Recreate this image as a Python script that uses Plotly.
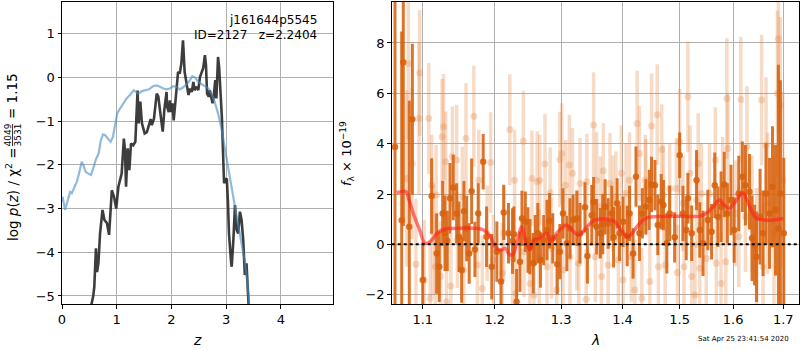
import plotly.graph_objects as go

# ---------------- left panel: log p(z) ----------------
pz_z = [0.53, 0.54, 0.57, 0.59, 0.62, 0.64, 0.665, 0.695, 0.74, 0.775, 0.82, 0.86, 0.91, 0.95, 0.99,
        1.03, 1.09, 1.13, 1.15, 1.17, 1.20, 1.23, 1.26, 1.30, 1.34, 1.38, 1.40, 1.43, 1.46, 1.51,
        1.55, 1.59, 1.62, 1.64, 1.68, 1.73, 1.76, 1.79, 1.84, 1.87, 1.91, 1.92, 1.95, 1.97, 1.99,
        2.02, 2.04, 2.08, 2.12, 2.15, 2.18, 2.21, 2.24, 2.26, 2.29, 2.31, 2.34, 2.37, 2.40, 2.42,
        2.46, 2.49, 2.52, 2.55, 2.58, 2.61, 2.63, 2.65, 2.68, 2.70, 2.73, 2.75, 2.77, 2.80, 2.82,
        2.85, 2.87, 2.90, 2.92, 2.93, 2.96, 2.98, 3.01, 3.03, 3.05, 3.09, 3.10, 3.13, 3.16, 3.19,
        3.22, 3.25, 3.28, 3.31, 3.34, 3.37, 3.40, 3.42, 3.44]
pz_logp = [-6.0, -5.18, -5.0, -4.79, -3.91, -4.45, -4.25, -3.57, -3.03, -3.26, -3.33, -3.6, -2.58, -2.73, -3.0,
           -2.5, -2.2, -1.4, -1.66, -2.5, -1.62, -2.12, -1.51, -1.55, -1.47, -0.3, -1.05, -0.55, -1.05, -1.28,
           -1.25, -1.1, -0.95, -1.09, -0.94, -0.37, -0.44, -0.75, -1.24, -0.73, -0.33, -0.67, -0.79, -0.52, -0.79,
           -0.59, -0.98, -0.44, 0.13, 0.09, 0.32, 0.85, 0.13, -0.02, -0.29, -0.40, -0.25, -0.33, -0.10, -0.29,
           -0.21, -0.29, 0.01, 0.13, 0.22, 0.51, 0.28, -0.37, -0.44, -0.29, -0.52, -0.59, -0.44, -0.06, -0.48,
           0.47, 0.24, -0.37, -0.90, -1.28, -2.42, -2.35, -2.31, -2.81, -3.57, -4.25, -4.33, -3.72, -2.92, -3.49,
           -3.57, -3.07, -3.26, -3.72, -4.52, -4.25, -4.79, -5.18, -6.0]

prior_z = [0.0, 0.01, 0.055, 0.105, 0.15, 0.18, 0.23, 0.27, 0.31, 0.36, 0.39, 0.43, 0.48, 0.53, 0.57,
           0.62, 0.67, 0.71, 0.75, 0.79, 0.84, 0.89, 0.93, 0.97, 1.01, 1.06, 1.12, 1.18, 1.24, 1.31,
           1.35, 1.40, 1.46, 1.52, 1.59, 1.66, 1.73, 1.79, 1.85, 1.91, 1.97, 2.03, 2.09, 2.15, 2.21,
           2.28, 2.34, 2.38, 2.43, 2.49, 2.55, 2.61, 2.67, 2.73, 2.79, 2.85, 2.92, 2.98, 3.04, 3.10,
           3.16, 3.22, 3.28, 3.34, 3.38, 3.42, 3.45]
prior_logp = [-2.85, -2.73, -3.03, -2.81, -2.62, -2.65, -2.5, -2.39, -2.2, -1.93, -2.0, -2.16, -2.2, -2.23, -2.08,
              -1.87, -1.74, -1.43, -1.30, -1.32, -1.40, -1.47, -1.36, -1.13, -0.82, -0.71, -0.59, -0.48, -0.40, -0.29,
              -0.33, -0.37, -0.31, -0.29, -0.27, -0.20, -0.18, -0.21, -0.25, -0.27, -0.25, -0.20, -0.21, -0.27, -0.23,
              -0.15, -0.06, 0.03, 0.0, -0.10, -0.15, -0.18, -0.25, -0.37, -0.56, -0.82, -1.21, -1.66, -2.12, -2.58,
              -2.96, -3.38, -3.80, -4.22, -4.63, -5.18, -5.6]

# ---------------- right panel: spectrum ----------------
dark_wave = [1.0638, 1.0724, 1.0745, 1.0823, 1.0863, 1.100, 1.1119, 1.1187, 1.1222, 1.1268, 1.1299, 1.1331,
             1.1368, 1.1413, 1.1460, 1.1492, 1.1529, 1.1561, 1.1599, 1.1635, 1.1669, 1.1715, 1.1762, 1.1833,
             1.1881, 1.1956, 1.203, 1.209, 1.213, 1.220, 1.226, 1.228, 1.232, 1.237, 1.240, 1.245, 1.249,
             1.252, 1.257, 1.260, 1.264, 1.268, 1.273, 1.278, 1.282, 1.287, 1.294, 1.298, 1.303, 1.309,
             1.314, 1.319, 1.325, 1.330, 1.338, 1.342, 1.349, 1.352, 1.357, 1.363, 1.367, 1.371, 1.376,
             1.382, 1.385, 1.391, 1.395, 1.401, 1.408, 1.412, 1.418, 1.423, 1.429, 1.434, 1.440, 1.446,
             1.450, 1.456, 1.461, 1.467, 1.471, 1.477, 1.482, 1.491, 1.500, 1.506, 1.512, 1.515, 1.522,
             1.531, 1.537, 1.543, 1.552, 1.559, 1.565, 1.571, 1.577, 1.583, 1.589, 1.596, 1.602, 1.611,
             1.618, 1.624, 1.632, 1.637, 1.642, 1.646, 1.653, 1.659, 1.665, 1.672, 1.678, 1.684, 1.690,
             1.694, 1.701]
dark_flux = [3.87, 0.96, 7.23, 0.70, 4.97, -1.42, 1.92, -0.36, -0.89, 1.23, 0.44, 0.14,
             1.83, 2.26, 1.23, 0.30, -1.02, 1.32, 0.63, -0.36, 2.11, -0.20, 1.23, 3.28,
             0.30, -0.89, -0.29, -1.48, 1.27, 0.44, 0.13, 0.40, -2.28, -0.69, 1.03, 0.90, 0.17,
             -0.09, -0.75, 0.17, 0.44, -0.62, 0.17, 0.57, 0.94, 0.24, -0.79, -0.29, 1.23, 0.04,
             0.63, 0.97, 1.03, 0.44, 1.47, -0.46, 1.16, 1.68, 0.70, 0.44, 0.81, 1.49, 0.83,
             1.23, 0.28, 1.63, 0.44, 0.90, 0.33, 1.23, -0.36, 2.69, 0.44, 1.23, 1.49, 1.76,
             2.38, 2.35, 0.77, 1.69, 1.56, 0.04, 1.23, 0.28, 3.54, 1.23, 0.57, 1.83, 0.44,
             2.55, 0.57, 0.04, 0.97, 0.50, 2.35, 1.10, 1.49, 2.38, 1.23, 1.76, 0.57, 2.02,
             2.69, 2.35, 2.09, 0.24, -0.03, -0.49, 1.10, 0.44, 2.02, 1.23, 2.29, 1.36, 0.63,
             2.02, 0.44]
dark_err = [8.0, 7.5, 6.5, 5.0, 3.0, 1.5, 1.5, 1.6, 1.4, 1.3, 1.5, 1.2,
            1.4, 1.3, 1.2, 1.4, 1.3, 1.2, 1.3, 1.2, 1.3, 1.1, 1.2, 1.1,
            1.2, 1.3, 1.2, 1.3, 1.1, 1.2, 1.3, 1.1, 1.3, 1.2, 1.1, 1.2, 1.3,
            1.1, 1.2, 1.0, 1.2, 1.1, 1.0, 1.2, 1.1, 1.0, 1.2, 1.1, 1.0, 1.1,
            1.2, 1.0, 1.1, 1.2, 1.0, 1.1, 1.2, 1.0, 1.1, 1.0, 1.2, 1.1, 1.0,
            1.1, 1.2, 1.0, 1.1, 1.0, 1.2, 1.1, 1.0, 1.2, 1.1, 1.0, 1.1, 1.2,
            1.1, 1.0, 1.2, 1.1, 1.0, 1.2, 1.1, 1.0, 0.9, 1.1, 1.2, 1.0, 1.1,
            1.2, 1.1, 1.3, 1.2, 1.1, 1.3, 1.2, 1.4, 1.3, 1.2, 1.4, 1.3, 1.5,
            1.4, 1.6, 1.5, 1.7, 1.6, 1.8, 1.9, 1.7, 2.0, 2.2, 2.4, 2.6, 6.5,
            4.5, 3.0]

light_wave = [1.079, 1.081, 1.086, 1.091, 1.095, 1.096, 1.102, 1.108, 1.110, 1.112, 1.114, 1.117, 1.118,
              1.124, 1.126, 1.128, 1.131, 1.132, 1.138, 1.140, 1.146, 1.147, 1.154, 1.156, 1.159, 1.170,
              1.175, 1.177, 1.182, 1.189, 1.194, 1.198, 1.211, 1.213, 1.222, 1.226, 1.229, 1.231, 1.242,
              1.243, 1.252, 1.255, 1.258, 1.263, 1.266, 1.267, 1.275, 1.278, 1.283, 1.285, 1.293, 1.298,
              1.301, 1.303, 1.307, 1.313, 1.314, 1.318, 1.325, 1.328, 1.330, 1.340, 1.341, 1.352, 1.355,
              1.357, 1.363, 1.365, 1.368, 1.376, 1.379, 1.384, 1.389, 1.393, 1.398, 1.401, 1.406, 1.412,
              1.415, 1.421, 1.425, 1.429, 1.433, 1.439, 1.440, 1.447, 1.450, 1.460, 1.462, 1.468, 1.471,
              1.474, 1.482, 1.494, 1.496, 1.500, 1.506, 1.508, 1.515, 1.519, 1.522, 1.528, 1.531, 1.534,
              1.537, 1.540, 1.549, 1.555, 1.566, 1.568, 1.577, 1.580, 1.586, 1.588, 1.590, 1.605, 1.611,
              1.615, 1.624, 1.627, 1.637, 1.646, 1.656, 1.659, 1.665, 1.668, 1.681, 1.688, 1.690, 1.694,
              1.699]
light_flux = [2.62, 7.18, 3.21, -0.79, 5.0, 6.81, -1.42, 5.0, -2.14, 2.35, 0.17, -0.89, 1.96,
              -1.28, 4.27, 4.67, 3.28, -2.28, -1.65, 3.48, 3.35, 0.17, 1.89, -1.02, 4.21, 5.09,
              -0.82, 2.55, -1.75, 0.44, 3.25, -0.62, -1.15, 0.44, 4.56, -0.56, 2.55, -1.94, 4.10,
              -0.29, -1.55, 2.62, -2.01, 2.49, -0.49, 2.55, 3.19, -0.89, 2.05, -0.16, -1.81, 3.37,
              3.61, -1.02, 2.35, 3.15, -0.49, 2.82, 0.17, -0.75, 2.42, -2.18, 2.49, 4.74, -0.49,
              2.55, 1.49, -1.28, 2.92, -0.82, 2.42, 1.63, 1.89, -0.62, 2.82, -1.42, 2.02, 2.55,
              -0.49, -1.81, 4.80, 3.61, -2.14, 2.55, 2.29, -1.48, 4.70, 5.15, -0.89, 3.77, 1.96,
              -0.82, 2.22, 2.22, -1.12, 4.07, 1.63, -0.89, 5.86, 2.82, -1.28, -2.01, 1.76, 3.21,
              -0.95, 2.02, -0.56, 2.02, 3.35, -0.75, -1.55, 2.16, -0.69, 5.79, 3.81, 1.23, 0.30,
              5.75, 1.10, 3.88, 1.23, -0.16, 5.73, -0.89, 3.94, 1.63, 0.44, 5.99, 8.17, 5.53,
              2.55]
light_err = [3.5, 3.0, 3.0, 2.6, 3.0, 2.5, 2.4, 2.2, 2.3, 2.0, 2.2, 2.1, 2.0,
             2.2, 2.3, 2.1, 2.0, 2.2, 2.1, 2.0, 2.2, 1.9, 2.0, 2.1, 2.2, 2.0,
             1.9, 2.0, 2.1, 1.9, 2.0, 1.8, 2.0, 1.9, 2.2, 1.9, 2.0, 2.1, 2.0,
             1.8, 2.0, 1.9, 2.1, 2.0, 1.9, 1.8, 2.0, 1.9, 1.8, 2.0, 2.1, 1.9,
             2.0, 1.9, 1.8, 2.0, 1.9, 1.8, 2.0, 1.9, 1.8, 2.0, 1.9, 2.1, 1.8,
             1.9, 2.0, 1.8, 1.9, 1.8, 2.0, 1.9, 1.8, 2.0, 1.9, 1.8, 2.0, 1.9,
             1.8, 2.0, 2.1, 1.9, 2.0, 1.8, 1.9, 2.0, 2.1, 2.0, 1.9, 1.8, 2.0,
             1.9, 1.8, 2.0, 1.9, 2.1, 1.9, 1.8, 2.2, 1.9, 2.0, 2.1, 1.9, 2.0,
             1.8, 2.0, 1.9, 2.0, 2.1, 1.9, 2.0, 2.1, 2.0, 2.4, 2.2, 2.1, 2.0,
             2.5, 2.2, 2.4, 2.3, 2.4, 2.6, 2.5, 2.7, 2.8, 3.0, 3.3, 3.8, 3.5,
             3.5]

model_wave = [1.066, 1.078, 1.082, 1.089, 1.096, 1.103, 1.110, 1.119, 1.129, 1.138, 1.175, 1.184,
              1.194, 1.200, 1.208, 1.216, 1.220, 1.226, 1.233, 1.240, 1.245, 1.252, 1.258, 1.266,
              1.278, 1.283, 1.293, 1.300, 1.309, 1.317, 1.328, 1.344, 1.355, 1.384, 1.398, 1.409,
              1.427, 1.439, 1.453, 1.500, 1.537, 1.549, 1.562, 1.574, 1.583, 1.593, 1.602, 1.619,
              1.627, 1.637, 1.646, 1.662, 1.681, 1.700]
model_flux = [2.05, 2.09, 1.76, 1.10, 0.57, 0.04, 0.11, 0.44, 0.60, 0.63, 0.63, 0.57,
              0.30, -0.09, -0.22, -0.16, -0.36, -0.42, 0.17, 0.70, 0.17, -0.22, 0.17, 0.24,
              0.44, 0.11, 0.44, 0.63, 0.77, 0.57, 0.37, 0.77, 0.97, 0.94, 0.57, 0.30,
              0.77, 1.03, 1.10, 1.12, 1.12, 1.23, 1.49, 1.76, 1.56, 1.43, 1.63, 2.05,
              1.76, 1.30, 1.03, 0.97, 0.97, 1.03]

x_ticks_right = [1.1, 1.2, 1.3, 1.4, 1.5, 1.6, 1.7]
x_ticks_left = [0, 1, 2, 3, 4]
y_ticks_left = [-5, -4, -3, -2, -1, 0, 1]
y_ticks_right = [-2, 0, 2, 4, 6, 8]

FONT = "DejaVu Sans"
DARK = "rgba(215,98,14,0.88)"
LIGHT = "rgba(228,135,70,0.3)"

fig = go.Figure()

fig.add_trace(go.Scatter(x=pz_z, y=pz_logp, mode="lines",
                         line=dict(color="rgba(40,40,40,0.9)", width=2.6),
                         xaxis="x", yaxis="y", showlegend=False))
fig.add_trace(go.Scatter(x=prior_z, y=prior_logp, mode="lines",
                         line=dict(color="rgba(70,140,195,0.6)", width=2.2),
                         xaxis="x", yaxis="y", showlegend=False))

fig.add_trace(go.Scatter(x=light_wave, y=light_flux, mode="markers",
                         marker=dict(color=LIGHT, size=7),
                         error_y=dict(type="data", array=light_err, color=LIGHT, thickness=3.5, width=0),
                         xaxis="x2", yaxis="y2", showlegend=False))
fig.add_trace(go.Scatter(x=dark_wave, y=dark_flux, mode="markers",
                         marker=dict(color=DARK, size=6.5),
                         error_y=dict(type="data", array=dark_err, color=DARK, thickness=3, width=0),
                         xaxis="x2", yaxis="y2", showlegend=False))
fig.add_trace(go.Scatter(x=model_wave, y=model_flux, mode="lines",
                         line=dict(color="rgba(255,30,30,0.6)", width=3.5, shape="spline"),
                         xaxis="x2", yaxis="y2", showlegend=False))

fig.add_shape(type="line", xref="x2 domain", yref="y2", x0=0, x1=1, y0=0, y1=0,
              line=dict(color="black", width=2, dash="dot"))

axis_common = dict(showline=True, linecolor="black", linewidth=1, mirror=True,
                   ticks="outside", ticklen=3.5, tickwidth=1, tickcolor="black",
                   showgrid=True, gridcolor="#b0b0b0", gridwidth=1, zeroline=False,
                   automargin=False,
                   tickfont=dict(family=FONT, size=13, color="black"))

fig.update_layout(
    width=800, height=350,
    margin=dict(l=62, r=1, t=2, b=46),
    paper_bgcolor="white", plot_bgcolor="white",
    font=dict(family=FONT, color="black"),
    xaxis=dict(domain=[0, 0.3677], range=[0, 4.95], tickvals=x_ticks_left, anchor="y", **axis_common),
    yaxis=dict(domain=[0, 1], range=[-5.184, 1.729], tickvals=y_ticks_left,
               ticktext=["\u22125", "\u22124", "\u22123", "\u22122", "\u22121", "0", "1"],
               anchor="x", **axis_common),
    xaxis2=dict(domain=[0.4474, 1], type="log", range=[0.02514, 0.23868],
                tickvals=x_ticks_right, ticktext=[str(v) for v in x_ticks_right],
                anchor="y2", **axis_common),
    yaxis2=dict(domain=[0, 1], range=[-2.369, 9.627], tickvals=y_ticks_right,
                ticktext=["\u22122", "0", "2", "4", "6", "8"], anchor="x2", **axis_common),
)

def px_x(px):
    return (px - 62) / 737.0

def px_y(py):
    return (304 - py) / 302.0

ann = []
ann.append(dict(text="j161644p5545", x=px_x(319), y=px_y(20), xanchor="right", yanchor="middle",
                font=dict(size=12)))
ann.append(dict(text="ID=2127   z=2.2404", x=px_x(319), y=px_y(34.5), xanchor="right", yanchor="middle",
                font=dict(size=12)))
ann.append(dict(text="<i>z</i>", x=px_x(197.5), y=px_y(340), xanchor="center", yanchor="middle",
                font=dict(size=14)))
ann.append(dict(text="<i>\u03bb</i>", x=px_x(595), y=px_y(340), xanchor="center", yanchor="middle",
                font=dict(size=14)))
ann.append(dict(text="Sat Apr 25 23:41:54 2020", x=px_x(743), y=px_y(339), xanchor="center", yanchor="middle",
                font=dict(size=7)))
ann.append(dict(text="<i>f</i><sub>\u03bb</sub> \u00d7 10<sup>\u221219</sup>", x=px_x(347), y=px_y(154),
                xanchor="center", yanchor="middle", textangle=-90, font=dict(size=13)))
# left y-axis label with stacked fraction
ann.append(dict(text="log <i>p</i>(<i>z</i>) / \u03c7<sup>2</sup> =", x=px_x(12), y=px_y(194),
                xanchor="center", yanchor="middle", textangle=-90, font=dict(size=13.5)))
ann.append(dict(text="4049", x=px_x(7.5), y=px_y(135), xanchor="center", yanchor="middle",
                textangle=-90, font=dict(size=9)))
ann.append(dict(text="3531", x=px_x(17.5), y=px_y(135), xanchor="center", yanchor="middle",
                textangle=-90, font=dict(size=9)))
ann.append(dict(text="= 1.15", x=px_x(12), y=px_y(96), xanchor="center", yanchor="middle",
                textangle=-90, font=dict(size=13.5)))
for a in ann:
    a.update(xref="paper", yref="paper", showarrow=False)
fig.update_layout(annotations=ann)

fig.add_shape(type="line", xref="paper", yref="paper", x0=px_x(12.5), x1=px_x(12.5),
              y0=px_y(146), y1=px_y(124), line=dict(color="black", width=0.8))

fig.write_html("out.html", config={"displayModeBar": False},
               post_script="document.body.style.margin='0px';")
